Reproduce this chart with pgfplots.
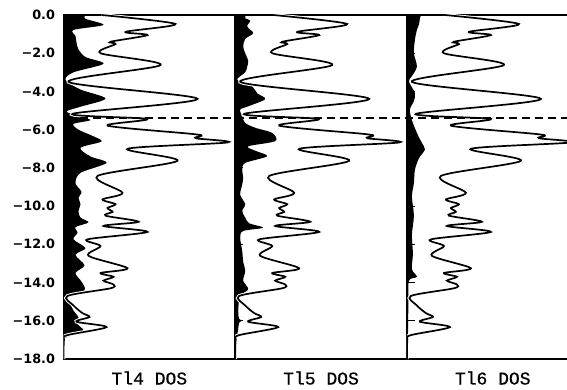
\documentclass[border=0pt]{standalone}
\usepackage{pgfplots}
\usepackage{pgfplotstable}
\pgfplotsset{compat=1.18}
\usepackage{fontspec}
\newfontfamily\tickfont{DejaVu Sans}
\newfontfamily\labfont[FakeBold=0.6]{Liberation Mono}

\pgfplotstableread{
x y
38 0
112 -0.47
62 -0.88
84 -1.05
47 -1.40
52 -1.52
37 -2.0
97 -2.62
5 -3.5
134 -4.39
9 -5.17
84 -5.44
44 -5.79
128 -6.22
138 -6.32
132 -6.45
164 -6.67
64 -7.0
114 -7.63
34 -8.42
59 -9.3
39 -9.65
52 -9.9
44 -10.1
49 -10.3
42 -10.5
75 -10.82
40 -11.04
84 -11.35
24 -11.74
37 -12.09
25 -12.6
64 -13.25
37 -13.5
50 -13.7
40 -13.9
50 -14.1
47 -14.3
4 -14.7
10 -15.2
19 -15.6
26 -15.8
13 -16.05
43 -16.33
4 -16.75
0.5 -17.0
0 -18
}\totdos

\pgfplotstableread{
x y
0 0
20 0
22 -0.2
40 -0.52
10 -0.78
12 -1.1
13 -1.45
15 -1.8
22 -2.2
40 -2.55
10 -3.0
2 -3.4
17 -3.9
42 -4.37
17 -4.8
3 -5.05
15 -5.3
27 -5.5
10 -5.7
15 -6.0
30 -6.35
38 -6.62
17 -6.95
27 -7.4
43 -7.74
17 -8.26
12 -8.8
18 -9.25
15 -9.56
17 -9.9
15 -10.26
17 -10.6
25 -10.85
12 -11.1
14 -11.4
10 -11.74
22 -12.2
12 -12.55
21 -13.1
12 -13.5
18 -13.95
21 -14.4
5 -14.7
6 -15.0
10 -15.47
15 -15.82
14 -16.17
20 -16.52
7 -16.78
0.5 -16.95
0 -17.2
0 -18
}\fillA

\pgfplotstableread{
x y
0 0
10 0
10 -0.17
15 -0.3
12 -0.6
18 -0.95
10 -1.25
8 -1.65
10 -2.0
13 -2.4
12 -2.7
10 -3.0
2 -3.4
17 -3.74
22 -4.1
30 -4.4
13 -4.78
5 -4.95
7 -5.3
10 -5.65
20 -5.9
37 -6.17
40 -6.6
13 -6.87
20 -7.1
32 -7.39
10 -7.74
7 -8.1
8 -8.5
7 -8.87
5 -9.4
10 -9.9
7 -10.25
10 -10.6
14 -10.9
28 -11.13
8 -11.3
5 -11.65
7 -12.35
8 -12.9
10 -13.4
8 -13.9
13 -14.35
5 -14.7
3 -15.47
4 -15.9
7 -16.0
4 -16.1
2 -16.78
0.5 -17.0
0 -17.2
0 -18
}\fillB

\pgfplotstableread{
x y
0 0
13 0
13 -0.17
12 -0.5
10 -0.78
8 -1.3
7 -2.0
10 -2.7
5 -3.2
2 -3.48
8 -4.08
7 -4.5
3 -4.95
5 -5.5
10 -6.17
15 -6.7
18 -7.04
12 -7.5
8 -8.1
7 -8.8
5 -9.5
7 -10.5
5 -11.5
6 -12.5
5 -13.3
10 -13.7
2 -13.9
1.5 -15
1 -16.8
0 -17.2
0 -18
}\fillC

\pgfplotsset{
  panel/.style={
    scale only axis, width=171.7pt, height=344pt,
    anchor=south west,
    xmin=0, xmax=171.7, ymin=-18, ymax=0,
    xtick=\empty,
    ytick={-18,-16,...,0},
    yticklabels={},
    ytick pos=left,
    tick align=inside,
    major tick length=8pt,
    axis line style={line width=1.6pt},
    tick style={line width=0.8pt, black},
    xlabel style={font=\labfont\fontsize{18}{20}\selectfont,
      at={(axis description cs:0.5,0)}, anchor=base, yshift=-25.5pt},
  },
  tot/.style={smooth, tension=0.5, no marks},
}

\begin{document}
\begin{tikzpicture}
% Panel 1
\begin{axis}[panel, at={(63.5pt,30pt)},
  yticklabels={−18.0,−16.0,−14.0,−12.0,−10.0,−8.0,−6.0,−4.0,−2.0,0.0},
  yticklabel style={font=\tickfont\bfseries\fontsize{12.8}{14}\selectfont, xshift=-5pt},
  xlabel={Tl4 DOS}]
\addplot[fill=black, draw=none, smooth, tension=0.5] table[x=x,y=y] {\fillA} -- cycle;
\addplot[tot, white, line width=3.6pt] table[x=x,y=y] {\totdos};
\addplot[tot, black, line width=1.7pt] table[x=x,y=y] {\totdos};
\end{axis}
% Panel 2
\begin{axis}[panel, at={(235.2pt,30pt)}, xlabel={Tl5 DOS}]
\addplot[fill=black, draw=none, smooth, tension=0.5] table[x=x,y=y] {\fillB} -- cycle;
\addplot[tot, white, line width=3.6pt] table[x=x,y=y] {\totdos};
\addplot[tot, black, line width=1.7pt] table[x=x,y=y] {\totdos};
\end{axis}
% Panel 3
\begin{axis}[panel, at={(406.9pt,30pt)}, xlabel={Tl6 DOS}]
\addplot[fill=black, draw=none, smooth, tension=0.5] table[x=x,y=y] {\fillC} -- cycle;
\addplot[tot, white, line width=3.6pt] table[x=x,y=y] {\totdos};
\addplot[tot, black, line width=1.7pt] table[x=x,y=y] {\totdos};
\end{axis}
% Fermi level overlay
\begin{axis}[scale only axis, width=503.5pt, height=344pt, anchor=south west,
  at={(63.5pt,30pt)}, hide axis, xmin=0, xmax=503.5, ymin=-18, ymax=0, clip=false]
\addplot[black, line width=1.3pt, dash pattern=on 8pt off 5pt, no marks] coordinates {(16,-5.39) (503.5,-5.39)};
\end{axis}
\pgfresetboundingbox
\path[use as bounding box] (0,0) rectangle (567pt,389pt);
\end{tikzpicture}
\end{document}
